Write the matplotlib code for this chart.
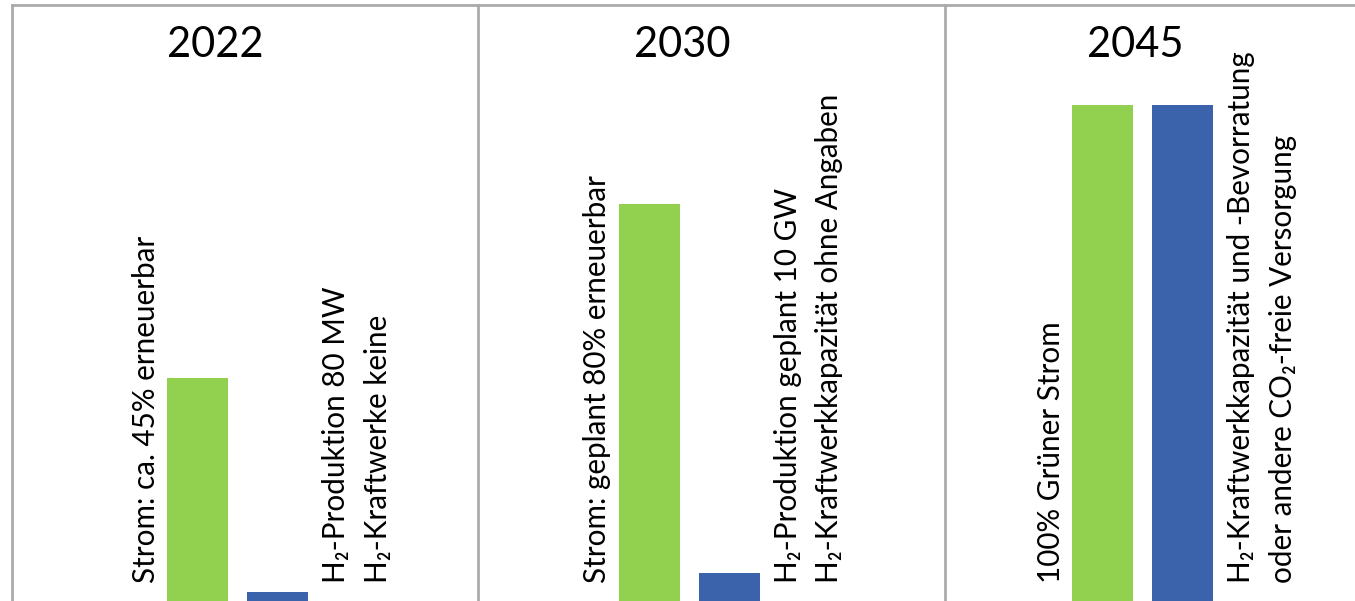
import matplotlib
matplotlib.use("Agg")
import matplotlib.pyplot as plt

plt.rcParams['font.family'] = ['Lato', 'DejaVu Sans']

# data (percent of the 2045 target)
years = ["2022", "2030", "2045"]
strom = [45, 80, 100]
h2 = [1.8, 5.6, 100]

strom_labels = [
    "Strom: ca. 45% erneuerbar",
    "Strom: geplant 80% erneuerbar",
    "100% Grüner Strom",
]
h2_labels = [
    ["H\u2082-Produktion 80 MW", "H\u2082-Kraftwerke keine"],
    ["H\u2082-Produktion geplant 10 GW", "H\u2082-Kraftwerkkapazität ohne Angaben"],
    ["H\u2082-Kraftwerkkapazität und -Bevorratung", "oder andere CO\u2082-freie Versorgung"],
]

GREEN = "#92D050"
BLUE = "#3A63AB"
FRAME = "#ababab"

W, H = 1355, 601
fig = plt.figure(figsize=(W / 100, H / 100), dpi=100)

# panel layout in pixels, bar spacing = 1 data unit = 80 px
panel_left = [12, 478, 945]
panel_w = 466
xlim_left = [-2.32, -2.14, -1.97]
title_x = [0.22, 0.41, 0.41]
unit = 80.0

for i, yr in enumerate(years):
    ax = fig.add_axes([panel_left[i] / W, 0, panel_w / W, (H - 5) / H])
    ax.bar([0, 1], [strom[i], h2[i]], width=0.76, color=[GREEN, BLUE])
    ax.set_xlim(xlim_left[i], xlim_left[i] + panel_w / unit)
    ax.set_ylim(0, 120.2)
    ax.set_xticks([])
    ax.set_yticks([])
    for side in ["right", "bottom"]:
        ax.spines[side].set_visible(False)
    for side in ["left", "top"]:
        ax.spines[side].set_color(FRAME)
        ax.spines[side].set_linewidth(2)

    ax.text(title_x[i], 1 - 40 / 596, yr,
            transform=ax.get_xaxis_transform(), ha="center", va="center",
            fontsize=30)

    tkw = dict(rotation=90, ha="center", va="bottom", fontsize=21.3)
    ax.text(-0.65, 3.6, strom_labels[i], **tkw)
    ax.text(1.73, 3.6, h2_labels[i][0], **tkw)
    ax.text(2.25, 3.6, h2_labels[i][1], **tkw)

fig.savefig("out.png", dpi=100)
